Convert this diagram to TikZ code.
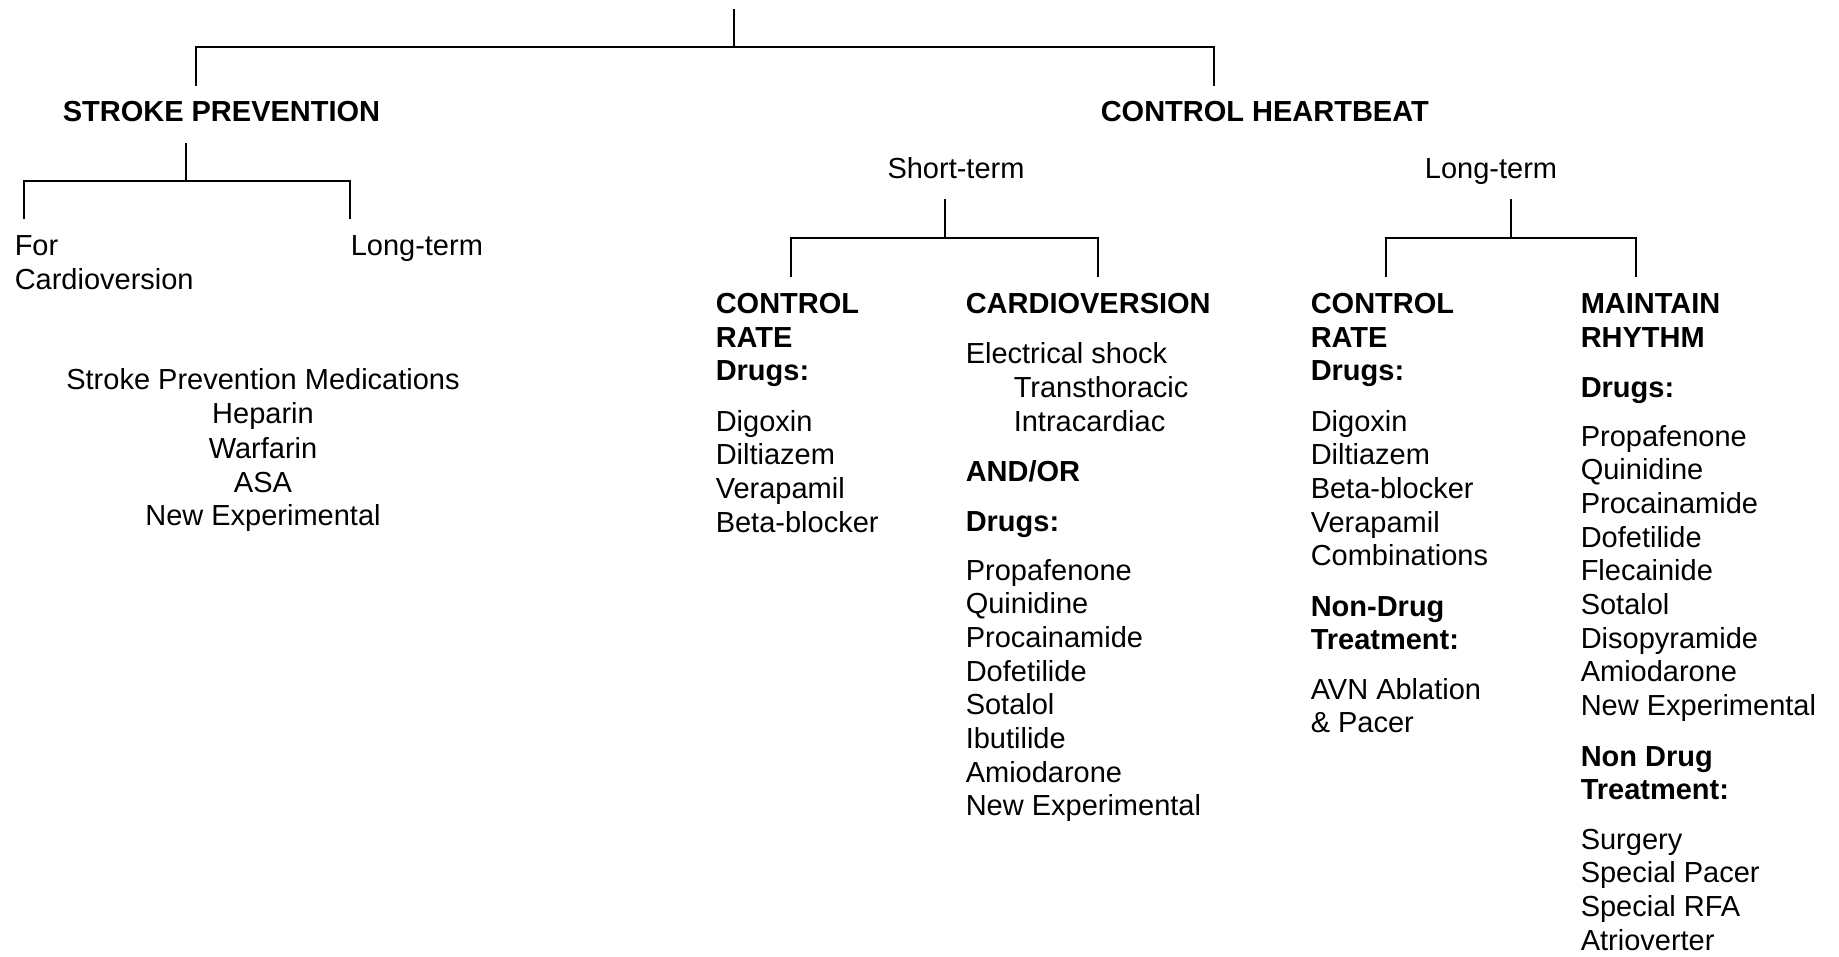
\documentclass[tikz,border=0pt]{standalone}
\usepackage{fontspec}
\setmainfont{Liberation Sans}
\begin{document}
\begin{tikzpicture}[x=1pt,y=-1pt,line width=1.5pt,
  txt/.style={inner sep=0pt,anchor=base west,font=\fontsize{29}{34}\selectfont},
  txtc/.style={txt,anchor=base},
  bld/.style={txt,font=\fontsize{29}{34}\selectfont\bfseries}]
\useasboundingbox (0,0) rectangle (1839,957);

% ---------- tree connectors ----------
\coordinate (rootTop) at (734,9);
\coordinate (rootJ) at (734,47);
\coordinate (spL) at (196,47);  \coordinate (spB) at (196,86);
\coordinate (chR) at (1214,47); \coordinate (chB) at (1214,86);
\draw (rootTop) -- (rootJ);
\draw (spB) -- (spL) -- (chR) -- (chB);

\coordinate (sTop) at (186,143); \coordinate (sJ) at (186,181);
\coordinate (sL) at (24,181);  \coordinate (sLB) at (24,219);
\coordinate (sR) at (350,181); \coordinate (sRB) at (350,219);
\draw (sTop) -- (sJ);
\draw (sLB) -- (sL) -- (sR) -- (sRB);

\coordinate (stTop) at (945,199); \coordinate (stJ) at (945,238);
\coordinate (stL) at (791,238);  \coordinate (stLB) at (791,277);
\coordinate (stR) at (1098,238); \coordinate (stRB) at (1098,277);
\draw (stTop) -- (stJ);
\draw (stLB) -- (stL) -- (stR) -- (stRB);

\coordinate (ltTop) at (1511,199); \coordinate (ltJ) at (1511,238);
\coordinate (ltL) at (1386,238);  \coordinate (ltLB) at (1386,277);
\coordinate (ltR) at (1636,238);  \coordinate (ltRB) at (1636,277);
\draw (ltTop) -- (ltJ);
\draw (ltLB) -- (ltL) -- (ltR) -- (ltRB);

% ---------- headings ----------
\node[bld] (stroke) at (62,122) {STROKE PREVENTION};
\node[bld] (heart) at (1100,122) {CONTROL HEARTBEAT};
\node[txt] (for1) at (14,256) {For};
\node[txt] (for2) at (14,290) {Cardioversion};
\node[txt] (slong) at (350,256) {Long-term};
\node[txtc] (short) at (956,179) {Short-term};
\node[txtc] (hlong) at (1491,179) {Long-term};

% ---------- stroke prevention medications ----------
\foreach \t/\y [count=\i] in {Stroke Prevention Medications/390, Heparin/424, Warfarin/458, ASA/492, New Experimental/525}
  \node[txtc] (med\i) at (263,\y) {\t};

% ---------- column 1: control rate (short-term) ----------
\foreach \t/\y [count=\i] in {CONTROL/314, RATE/348, Drugs:/381}
  \node[bld] (ah\i) at (715,\y) {\t};
\foreach \t/\y [count=\i] in {Digoxin/431, Diltiazem/464.7, Verapamil/498.4, Beta-blocker/532.1}
  \node[txt] (a\i) at (715,\y) {\t};

% ---------- column 2: cardioversion ----------
\node[bld] (bh1) at (965,314) {CARDIOVERSION};
\node[txt] (bs1) at (965,363) {Electrical shock};
\node[txt] (bs2) at (1013,397) {Transthoracic};
\node[txt] (bs3) at (1013,431) {Intracardiac};
\node[bld] (bh2) at (965,481) {AND/OR};
\node[bld] (bh3) at (965,531) {Drugs:};
\foreach \t/\y [count=\i] in {Propafenone/580, Quinidine/613.7, Procainamide/647.4, Dofetilide/681.1, Sotalol/714.8, Ibutilide/748.5, Amiodarone/782.2, New Experimental/815.9}
  \node[txt] (b\i) at (965,\y) {\t};

% ---------- column 3: control rate (long-term) ----------
\foreach \t/\y [count=\i] in {CONTROL/314, RATE/348, Drugs:/381}
  \node[bld] (ch\i) at (1310,\y) {\t};
\foreach \t/\y [count=\i] in {Digoxin/431, Diltiazem/464.7, Beta-blocker/498.4, Verapamil/532.1, Combinations/565.8}
  \node[txt] (c\i) at (1310,\y) {\t};
\node[bld] (cn1) at (1310,616) {Non-Drug};
\node[bld] (cn2) at (1310,649.7) {Treatment:};
\node[txt] (cx1) at (1310,699) {AVN Ablation};
\node[txt] (cx2) at (1310,732.7) {\& Pacer};

% ---------- column 4: maintain rhythm ----------
\node[bld] (dh1) at (1580,314) {MAINTAIN};
\node[bld] (dh2) at (1580,348) {RHYTHM};
\node[bld] (dh3) at (1580,397) {Drugs:};
\foreach \t/\y [count=\i] in {Propafenone/446, Quinidine/479.7, Procainamide/513.4, Dofetilide/547.1, Flecainide/580.8, Sotalol/614.5, Disopyramide/648.2, Amiodarone/681.9, New Experimental/715.6}
  \node[txt] (d\i) at (1580,\y) {\t};
\node[bld] (dn1) at (1580,766) {Non Drug};
\node[bld] (dn2) at (1580,799.7) {Treatment:};
\foreach \t/\y [count=\i] in {Surgery/849, Special Pacer/882.7, Special RFA/916.4, Atrioverter/950.1}
  \node[txt] (dx\i) at (1580,\y) {\t};
\end{tikzpicture}
\end{document}
